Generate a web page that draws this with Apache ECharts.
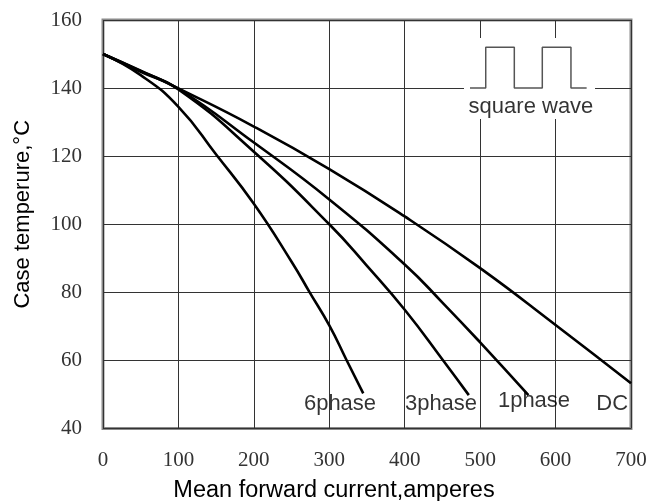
<!DOCTYPE html>
<html>
<head>
<meta charset="utf-8">
<script src="https://cdn.jsdelivr.net/npm/echarts@6/dist/echarts.min.js"></script>
<style>
  html, body { margin: 0; padding: 0; background: #fff; overflow: hidden; }
  #chart { width: 661px; height: 501px; }
</style>
</head>
<body>
<div id="chart"></div>
<script>
// ---- data ----
const xTicks = [0, 100, 200, 300, 400, 500, 600, 700];
const yTicks = [40, 60, 80, 100, 120, 140, 160];

const dcCurve     = [[0,150],[50,145.1],[100,139.9],[200,128.7],[300,116.2],[400,102.3],[500,87.1],[600,70.4],[700,53.3]];
const phase1Curve = [[0,150],[50,145],[100,139.8],[200,124],[300,107.3],[400,88.2],[450,77],[500,65.3],[564,49.8]];
const phase3Curve = [[0,150],[50,144.8],[100,139.6],[200,121.3],[300,100],[350,87.8],[400,74.9],[451,60],[485,49.8]];
const phase6Curve = [[0,150],[50,143.8],[100,134.5],[150,120.5],[200,106],[250,89],[274,80],[300,70.3],[322,60.5],[345,50.3]];

const curveLabels = [[314.2,47.2,'6phase'],[448.1,47.2,'3phase'],[571.4,48.1,'1phase'],[675,47.2,'DC']];

// inset: square wave symbol
const squareWave = [[486.5,140],[507.4,140],[507.4,152],[545.3,152],[545.3,140],[582.4,140],[582.4,152],[620.4,152],[620.4,140],[641.2,140]];
const squareWaveBox = [[478.6,130.9],[652.3,154.7]];
const squareWaveText = [[567.4,134.5,'square wave']];

const chart = echarts.init(document.getElementById('chart'), null, {renderer: 'canvas', width: 661, height: 501});

function curve(name, data) {
  return {
    name: name, type: 'line', data: data, smooth: 0.5,
    showSymbol: false, symbol: 'none', z: 3,
    lineStyle: {color: '#000', width: 2.6}
  };
}

const option = {
  animation: false,
  backgroundColor: '#fff',
  grid: {left: 103, width: 528, top: 20, height: 408.5, show: true, borderColor: '#8a8a8a', borderWidth: 3,
         containLabel: false, outerBoundsMode: 'none'},
  xAxis: {
    type: 'value', min: xTicks[0], max: xTicks[xTicks.length-1], interval: 100,
    axisLine: {show: false}, axisTick: {show: false},
    splitLine: {show: true, lineStyle: {color: '#333', width: 1}},
    axisLabel: {margin: 21, color: '#333', fontFamily: 'Liberation Serif', fontSize: 21},
    name: 'Mean forward current,amperes', nameLocation: 'middle', nameGap: 50,
    nameTextStyle: {color: '#000', fontFamily: 'Liberation Sans', fontSize: 23.5, padding: [0, 66, 0, 0]}
  },
  yAxis: {
    type: 'value', min: yTicks[0], max: yTicks[yTicks.length-1], interval: 20,
    axisLine: {show: false}, axisTick: {show: false},
    splitLine: {show: true, lineStyle: {color: '#333', width: 1}},
    axisLabel: {margin: 21, color: '#333', fontFamily: 'Liberation Serif', fontSize: 21},
    name: 'Case temperure,°C', nameLocation: 'middle', nameGap: 69,
    nameTextStyle: {color: '#000', fontFamily: 'Liberation Sans', fontSize: 22, padding: [0, 0, 0, 20]}
  },
  series: [
    {
      type: 'line', data: [], z: 1, silent: true,
      markArea: {silent: true, itemStyle: {color: '#fff', opacity: 1}, data: [[{coord: squareWaveBox[0]}, {coord: squareWaveBox[1]}]]}
    },
    {
      type: 'line', data: squareWave, z: 4, symbol: 'none', showSymbol: false, silent: true,
      lineStyle: {color: '#555', width: 1.5}
    },
    curve('DC', dcCurve),
    curve('1phase', phase1Curve),
    curve('3phase', phase3Curve),
    curve('6phase', phase6Curve),
    {
      type: 'scatter', data: curveLabels.concat(squareWaveText), symbolSize: 1, z: 5, silent: true,
      itemStyle: {color: 'rgba(0,0,0,0)'},
      label: {show: true, position: 'inside', formatter: p => p.data[2], color: '#000',
              fontFamily: 'Liberation Sans', fontSize: 22}
    }
  ]
};
chart.setOption(option);
</script>
</body>
</html>
